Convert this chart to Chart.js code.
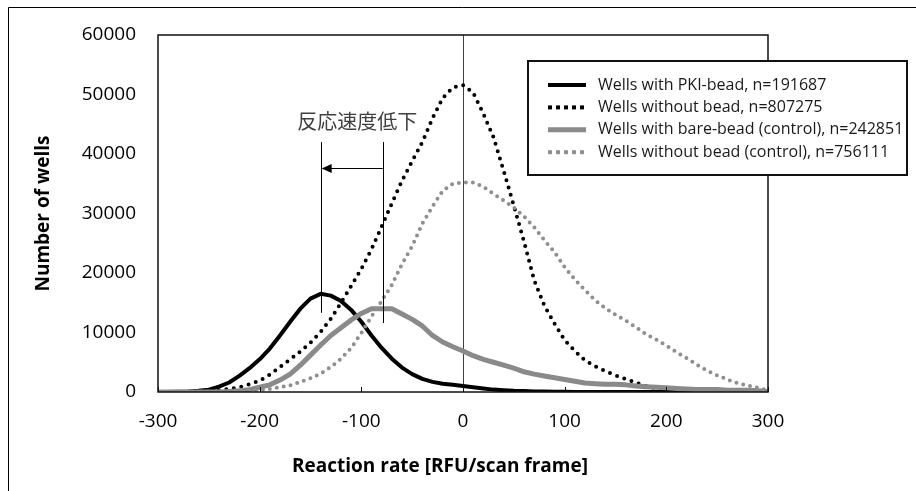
<!DOCTYPE html>
<html>
<head>
<meta charset="utf-8">
<script src="https://cdn.jsdelivr.net/npm/chart.js@4.4.1/dist/chart.umd.min.js"></script>
<style>
  html, body { margin: 0; padding: 0; background: #fff; }
</style>
</head>
<body>
<canvas id="wells" width="916" height="491"></canvas>
<script>
// reaction rate bins [RFU/scan frame]
const rates = [-300, -290, -280, -270, -260, -250, -240, -230, -220, -210,
  -200, -190, -180, -170, -160, -150, -140, -130, -120, -110,
  -100, -90, -80, -70, -60, -50, -40, -30, -20, -10,
  0, 10, 20, 30, 40, 50, 60, 70, 80, 90,
  100, 110, 120, 130, 140, 150, 160, 170, 180, 190,
  200, 210, 220, 230, 240, 250, 260, 270, 280, 290, 300];

// number of wells per bin
const pkiBead = [0, 0, 50, 100, 200, 400, 900, 1600, 2700, 4000,
  5500, 7300, 9500, 11800, 14000, 15700, 16500, 16200, 15300, 13800,
  11800, 9500, 7400, 5600, 4100, 3000, 2200, 1700, 1400, 1200,
  1000, 800, 600, 400, 300, 200, 150, 100, 80, 50,
  30, 20, 10, 0, 0, 0, 0, 0, 0, 0,
  0, 0, 0, 0, 0, 0, 0, 0, 0, 0, 0];

const noBead = [0, 0, 0, 50, 100, 200, 300, 500, 800, 1300,
  1900, 2900, 4200, 5500, 6800, 8300, 10100, 12300, 15000, 17800,
  20700, 24000, 27800, 31700, 35500, 38800, 42000, 46000, 49400, 51200,
  51600, 50300, 46800, 42800, 37200, 31300, 25300, 18800, 14500, 11500,
  8700, 6900, 5300, 4300, 3500, 2800, 2200, 1600, 1000, 600,
  400, 200, 100, 50, 0, 0, 0, 0, 0, 0, 0];

const bareBead = [0, 0, 0, 0, 0, 0, 0, 100, 200, 400,
  800, 1200, 2000, 3000, 4500, 6200, 7900, 9500, 10800, 12100,
  13200, 14000, 14000, 14000, 13100, 12200, 11100, 9500, 8400, 7600,
  6900, 6100, 5500, 5000, 4500, 4000, 3400, 3000, 2700, 2400,
  2100, 1800, 1500, 1400, 1300, 1300, 1200, 1000, 900, 800,
  700, 600, 500, 400, 400, 400, 300, 300, 300, 200, 100];

const noBeadCtrl = [0, 0, 0, 0, 0, 0, 0, 0, 100, 200,
  300, 500, 800, 1100, 1700, 2300, 3100, 4200, 5600, 7400,
  9900, 12700, 15300, 18000, 21500, 24500, 28300, 31200, 33800, 35000,
  35200, 35200, 34500, 33300, 32200, 31000, 29500, 27700, 25500, 23500,
  21000, 18900, 17100, 15400, 14100, 13000, 12000, 10900, 9700, 8800,
  7800, 6700, 5700, 4600, 3600, 2800, 2100, 1500, 1100, 700, 300];

const seriesNames = [
  'Wells with PKI-bead, n=191687',
  'Wells without bead, n=807275',
  'Wells with bare-bead (control), n=242851',
  'Wells without bead (control), n=756111'
];

const xTicks = [-300, -200, -100, 0, 100, 200, 300];
const yTicks = [0, 10000, 20000, 30000, 40000, 50000, 60000];

// annotation: shift of peak (x values, y values in data units)
const shiftFrom = -79, shiftTo = -140;
const shiftTop = 42000, shiftBottoms = [13300, 11600], arrowY = 37600;
const shiftLabel = '反応速度低下', shiftLabelAt = [-104, 45400];

const styles = [
  { color: '#000000', width: 4, dash: [] },
  { color: '#000000', width: 4, dash: [0, 7.6] },
  { color: '#8a8a8a', width: 5, dash: [] },
  { color: '#8f8f8f', width: 4, dash: [0, 7] }
];
const allSeries = [pkiBead, noBead, bareBead, noBeadCtrl];

Chart.defaults.font.family = "'Open Sans', sans-serif";
Chart.defaults.color = '#000';

const datasets = allSeries.map(function(vals, i) {
  return {
    label: seriesNames[i],
    data: rates.map(function(r, k) { return { x: r, y: vals[k] }; }),
    borderColor: styles[i].color,
    borderWidth: styles[i].width,
    borderDash: styles[i].dash,
    borderCapStyle: styles[i].dash.length ? 'round' : 'butt',
    borderJoinStyle: 'round',
    pointRadius: 0,
    tension: 0,
    fill: false,
    order: 3 - i
  };
});

const decor = {
  id: 'decor',
  beforeDatasetsDraw(chart) {
    const ctx = chart.ctx, a = chart.chartArea, x = chart.scales.x;
    // zero line
    const x0 = Math.round(x.getPixelForValue(0)) + 0.5;
    ctx.save();
    ctx.strokeStyle = '#404040';
    ctx.lineWidth = 1;
    ctx.beginPath();
    ctx.moveTo(x0, a.top);
    ctx.lineTo(x0, a.bottom);
    ctx.stroke();
    ctx.restore();
  },
  afterDatasetsDraw(chart) {
    const ctx = chart.ctx, a = chart.chartArea;
    const x = chart.scales.x, y = chart.scales.y;
    ctx.save();

    // plot frame
    ctx.strokeStyle = '#111';
    ctx.lineWidth = 1.5;
    ctx.strokeRect(a.left, a.top, a.right - a.left, a.bottom - a.top);

    // inward tick marks on x axis
    ctx.lineWidth = 1;
    xTicks.forEach(function(t) {
      const px = Math.round(x.getPixelForValue(t)) + 0.5;
      ctx.beginPath();
      ctx.moveTo(px, a.bottom);
      ctx.lineTo(px, a.bottom - 5);
      ctx.stroke();
    });

    // peak shift markers
    ctx.strokeStyle = '#000';
    ctx.lineWidth = 1;
    [shiftTo, shiftFrom].forEach(function(v, i) {
      const px = Math.round(x.getPixelForValue(v)) + 0.5;
      ctx.beginPath();
      ctx.moveTo(px, y.getPixelForValue(shiftTop));
      ctx.lineTo(px, y.getPixelForValue(shiftBottoms[i]));
      ctx.stroke();
    });
    const ay = Math.round(y.getPixelForValue(arrowY)) + 0.5;
    const xa = x.getPixelForValue(shiftTo), xb = x.getPixelForValue(shiftFrom);
    ctx.beginPath();
    ctx.moveTo(xb, ay);
    ctx.lineTo(xa + 8, ay);
    ctx.stroke();
    ctx.fillStyle = '#000';
    ctx.beginPath();
    ctx.moveTo(xa + 1, ay);
    ctx.lineTo(xa + 11, ay - 4.5);
    ctx.lineTo(xa + 11, ay + 4.5);
    ctx.closePath();
    ctx.fill();

    ctx.fillStyle = '#404040';
    ctx.font = "20px 'Noto Sans CJK JP'";
    ctx.textAlign = 'center';
    ctx.textBaseline = 'middle';
    ctx.fillText(shiftLabel, x.getPixelForValue(shiftLabelAt[0]), y.getPixelForValue(shiftLabelAt[1]));

    // legend
    const lx = 528, ly = 61, lw = 379, lh = 114;
    ctx.fillStyle = '#fff';
    ctx.fillRect(lx, ly, lw, lh);
    ctx.strokeStyle = '#111';
    ctx.lineWidth = 2;
    ctx.strokeRect(lx, ly, lw, lh);
    ctx.font = "16px 'Open Sans'";
    ctx.textAlign = 'left';
    seriesNames.forEach(function(name, i) {
      const ry = 85 + i * 22.4;
      ctx.strokeStyle = styles[i].color;
      ctx.lineWidth = styles[i].width;
      ctx.lineCap = 'butt';
      ctx.setLineDash(styles[i].dash.length ? [4, 4] : []);
      ctx.beginPath();
      ctx.moveTo(548, ry);
      ctx.lineTo(586, ry);
      ctx.stroke();
      ctx.setLineDash([]);
      ctx.fillStyle = '#1a1a1a';
      ctx.fillText(name, 598, ry);
    });

    // x axis title
    ctx.fillStyle = '#000';
    ctx.font = "bold 19px 'Open Sans'";
    ctx.textAlign = 'center';
    ctx.fillText('Reaction rate [RFU/scan frame]', 440, 467);

    // outer frame
    ctx.strokeStyle = '#000';
    ctx.lineWidth = 1;
    ctx.beginPath();
    ctx.moveTo(8.5, 491);
    ctx.lineTo(8.5, 7.5);
    ctx.lineTo(916, 7.5);
    ctx.stroke();
    ctx.restore();
  }
};

new Chart(document.getElementById('wells'), {
  type: 'line',
  data: { datasets: datasets },
  options: {
    responsive: false,
    devicePixelRatio: 1,
    animation: false,
    layout: { padding: { left: 8, top: 35, right: 148, bottom: 8 } },
    plugins: { legend: { display: false }, tooltip: { enabled: false } },
    scales: {
      x: {
        type: 'linear',
        min: -300, max: 300,
        afterBuildTicks(s) { s.ticks = xTicks.map(function(v) { return { value: v }; }); },
        ticks: { font: { size: 19 }, padding: 18, callback: function(v) { return String(v); } },
        grid: { display: false, drawTicks: false },
        border: { display: false },
        afterFit(s) { s.height = 91; }
      },
      y: {
        min: 0, max: 60000,
        afterBuildTicks(s) { s.ticks = yTicks.map(function(v) { return { value: v }; }); },
        ticks: { font: { size: 19 }, padding: 22, callback: function(v) { return String(v); } },
        grid: { display: false, drawTicks: false },
        border: { display: false },
        title: { display: true, text: 'Number of wells', font: { size: 19, weight: 'bold' }, padding: { top: 24, bottom: 0 } },
        afterFit(s) { s.width = 150; }
      }
    }
  },
  plugins: [decor]
});
</script>
</body>
</html>
